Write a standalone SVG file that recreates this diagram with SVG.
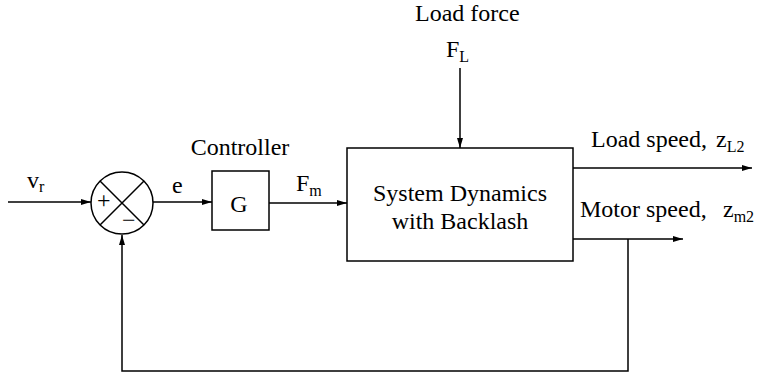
<svg xmlns="http://www.w3.org/2000/svg" width="763" height="375" viewBox="0 0 763 375">
<defs>
<marker id="arr" viewBox="0 0 10 6" refX="10" refY="3" markerWidth="10" markerHeight="6" markerUnits="userSpaceOnUse" orient="auto">
<path d="M0,0 L10,3 L0,6 z" fill="#000"/>
</marker>
<style>
.ln{fill:none;stroke:#000;stroke-width:1.5}
.bx{fill:#fff;stroke:#000;stroke-width:1.5}
text{font-family:"Liberation Serif","Times New Roman",serif;fill:#000;font-size:24px}
.sub{font-size:16px}
.mid{text-anchor:middle}
</style>
</defs>
<rect width="763" height="375" fill="#fff"/>
<g id="connectors">
<path class="ln" d="M8,202 H91" marker-end="url(#arr)"/>
<path class="ln" d="M153,202 H212" marker-end="url(#arr)"/>
<path class="ln" d="M269,203 H347" marker-end="url(#arr)"/>
<path class="ln" d="M460,68 V148" marker-end="url(#arr)"/>
<path class="ln" d="M573,168 H752" marker-end="url(#arr)"/>
<path class="ln" d="M573,239 H683" marker-end="url(#arr)"/>
<path class="ln" d="M628,239 V371 H122 V235" marker-end="url(#arr)"/>
</g>
<g id="labels">
<text x="27" y="188">v<tspan class="sub" dy="4">r</tspan></text>
<text x="172" y="193">e</text>
<text x="296" y="191">F<tspan class="sub" dy="5">m</tspan></text>
<text x="415" y="21">Load force</text>
<text x="446" y="57">F<tspan class="sub" dy="5">L</tspan></text>
<text x="591" y="147">Load speed,<tspan x="716">z</tspan><tspan class="sub" dy="5">L2</tspan></text>
<text x="580" y="217">Motor speed,<tspan x="723">z</tspan><tspan class="sub" dy="5">m2</tspan></text>
</g>
<g id="sum">
<circle class="bx" cx="122" cy="203" r="31"/>
<path class="ln" d="M100,181 L144,225 M100,225 L144,181"/>
<text x="97" y="208">+</text>
<text x="122" y="228">−</text>
</g>
<g id="controller">
<rect class="bx" x="212" y="171" width="57" height="59"/>
<text class="mid" x="239" y="212">G</text>
<text class="mid" x="240" y="155">Controller</text>
</g>
<g id="plant">
<rect class="bx" x="347" y="148" width="226" height="113"/>
<text class="mid" x="460" y="201">System Dynamics</text>
<text class="mid" x="460" y="229">with Backlash</text>
</g>
</svg>
